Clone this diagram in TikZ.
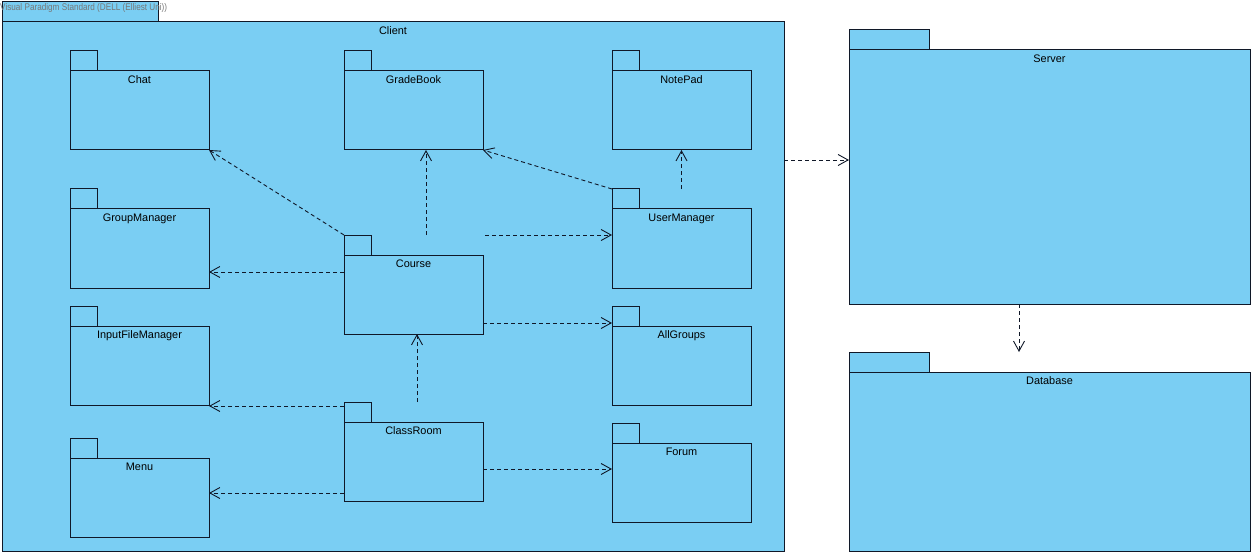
\documentclass[tikz,border=0pt]{standalone}
\usepackage{fontspec}
\setmainfont{Liberation Sans}
\usetikzlibrary{arrows.meta,calc}
\definecolor{pkgfill}{RGB}{122,206,243}
\definecolor{pkgline}{RGB}{16,24,40}
\definecolor{wmgray}{RGB}{120,120,120}
\newcommand{\plbl}[1]{{\fontsize{10.9}{12}\selectfont #1}}
\tikzset{
  pkgbody/.style={draw=pkgline, fill=pkgfill, line width=1pt, inner sep=0pt, outer sep=0pt, anchor=north west},
  pkgtab/.style={draw=pkgline, fill=pkgfill, line width=1pt, inner sep=0pt, outer sep=0pt, anchor=south west, minimum height=20pt},
  plabel/.style={anchor=base, inner sep=0pt, text=black},
  dep/.style={draw=pkgline, line width=0.9pt, dash pattern=on 4pt off 3pt, -{Straight Barb[length=10pt,width=11pt,line width=0.9pt]}},
}
% #1 name, #2 x, #3 y, #4 width, #5 height, #6 tab width, #7 label
\newcommand{\umlpkg}[7]{%
  \node[pkgbody, minimum width=#4pt, minimum height=#5pt] (#1) at (#2,#3) {};
  \node[pkgtab, minimum width=#6pt] (#1Tab) at (#1.north west) {};
  \node[plabel] (#1Lbl) at ([yshift=-12.5pt]#1.north) {\plbl{#7}};
}
\begin{document}
\begin{tikzpicture}[x=1pt,y=-1pt]
\useasboundingbox (0,0) rectangle (1255,556);
\fill[white] (0,0) rectangle (1255,556);
% Client
\umlpkg{client}{2}{22}{782}{529}{156}{Client}
\node[anchor=north west, inner sep=0pt] (wm) at (0,3) {\resizebox{167pt}{7pt}{\color{wmgray}Visual Paradigm Standard (DELL (Elliest Uni))}};
% Server & Database
\umlpkg{server}{849}{50}{401}{254}{80}{Server}
\umlpkg{database}{849}{372}{401}{179}{80}{Database}
% Inner packages
\umlpkg{chat}{70}{71}{139}{79}{27}{Chat}
\umlpkg{gradebook}{344}{71}{139}{79}{27}{GradeBook}
\umlpkg{notepad}{612}{71}{139}{79}{27}{NotePad}
\umlpkg{groupmanager}{70}{209}{139}{79}{27}{GroupManager}
\umlpkg{course}{344}{255}{139}{79}{27}{Course}
\umlpkg{usermanager}{612}{209}{139}{79}{27}{UserManager}
\umlpkg{inputfilemanager}{70}{326}{139}{79}{27}{InputFileManager}
\umlpkg{allgroups}{612}{326}{139}{79}{27}{AllGroups}
\umlpkg{classroom}{344}{422}{139}{79}{27}{ClassRoom}
\umlpkg{menu}{70}{458}{139}{79}{27}{Menu}
\umlpkg{forum}{612}{443}{139}{79}{27}{Forum}
% Dependencies
\draw[dep] (courseTab.north west) -- (chat.south east);
\draw[dep] ([xshift=12.5pt]course.north |- courseTab.north) -- ([xshift=12.5pt]gradebook.south);
\coordinate (s3) at ([yshift=-17pt]course.north west);
\draw[dep] (s3) -- (s3 -| groupmanager.east);
\coordinate (s4) at ([xshift=2pt]course.north east |- courseTab.north);
\draw[dep] (s4) -- (s4 -| usermanager.west);
\draw[dep] (usermanagerTab.north west) -- (gradebook.south east);
\draw[dep] (usermanager.north |- usermanagerTab.north) -- (notepad.south);
\coordinate (s7) at ([yshift=11pt]course.south east);
\draw[dep] (s7) -- (s7 -| allgroups.west);
\draw[dep] ([xshift=3.5pt]classroom.north |- classroomTab.north) -- ([xshift=3.5pt]course.south);
\coordinate (s9) at ([yshift=-4pt]classroomTab.north west);
\draw[dep] (s9) -- (s9 -| inputfilemanager.east);
\coordinate (s10) at ([yshift=8pt]classroom.south west);
\draw[dep] (s10) -- (s10 -| menu.east);
\coordinate (s11) at ([yshift=-47pt]classroom.north east);
\draw[dep] (s11) -- (s11 -| forum.west);
\coordinate (s12) at ([yshift=-138pt]client.north east);
\draw[dep] (s12) -- (s12 -| server.west);
\coordinate (s13) at ([xshift=-30.5pt]server.south);
\draw[dep] (s13) -- (s13 |- databaseTab.north);
\end{tikzpicture}
\end{document}
